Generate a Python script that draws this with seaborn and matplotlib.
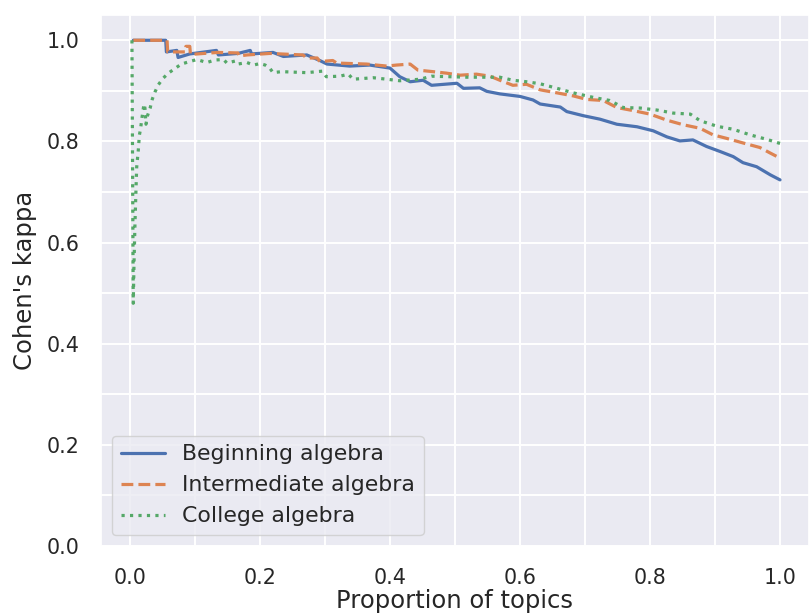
import matplotlib
matplotlib.use("Agg")
import matplotlib.pyplot as plt
from matplotlib.ticker import MultipleLocator
import seaborn as sns
import pandas as pd

series_names = ["Beginning algebra", "Intermediate algebra", "College algebra"]

begin_x = [0.005, 0.055, 0.056, 0.072, 0.074, 0.092, 0.133, 0.136, 0.166, 0.185,
           0.187, 0.22, 0.236, 0.272, 0.292, 0.303, 0.338, 0.369, 0.379, 0.40,
           0.415, 0.431, 0.451, 0.464, 0.503, 0.513, 0.538, 0.549, 0.569, 0.60,
           0.62, 0.631, 0.662, 0.672, 0.697, 0.723, 0.749, 0.78, 0.805, 0.826,
           0.846, 0.866, 0.887, 0.908, 0.928, 0.943, 0.964, 0.985, 1.0]
begin_y = [1.0, 1.0, 0.977, 0.980, 0.966, 0.973, 0.980, 0.971, 0.974, 0.980,
           0.973, 0.976, 0.968, 0.971, 0.960, 0.953, 0.949, 0.951, 0.949, 0.945,
           0.928, 0.918, 0.921, 0.911, 0.915, 0.905, 0.906, 0.899, 0.894, 0.889,
           0.882, 0.874, 0.868, 0.859, 0.851, 0.844, 0.834, 0.829, 0.821, 0.809,
           0.801, 0.803, 0.790, 0.780, 0.770, 0.758, 0.750, 0.734, 0.724]

inter_x = [0.005, 0.057, 0.058, 0.085, 0.086, 0.092, 0.093, 0.135, 0.166, 0.168,
           0.18, 0.215, 0.266, 0.272, 0.288, 0.292, 0.312, 0.318, 0.364, 0.395,
           0.41, 0.431, 0.436, 0.443, 0.466, 0.487, 0.508, 0.533, 0.554, 0.569,
           0.589, 0.61, 0.631, 0.657, 0.682, 0.703, 0.728, 0.749, 0.774, 0.80,
           0.826, 0.851, 0.877, 0.897, 0.918, 0.943, 0.969, 0.985, 1.0]
inter_y = [1.0, 1.0, 0.977, 0.977, 0.988, 0.988, 0.972, 0.976, 0.975, 0.969,
           0.971, 0.974, 0.971, 0.965, 0.965, 0.958, 0.960, 0.955, 0.953, 0.949,
           0.951, 0.953, 0.948, 0.941, 0.938, 0.935, 0.931, 0.933, 0.929, 0.921,
           0.911, 0.913, 0.902, 0.896, 0.890, 0.883, 0.881, 0.867, 0.861, 0.854,
           0.842, 0.833, 0.826, 0.813, 0.806, 0.797, 0.788, 0.777, 0.767]

college_x = [0.003, 0.005, 0.0062, 0.0077, 0.0092, 0.0103, 0.0128, 0.0144, 0.0164, 0.018,
             0.0215, 0.023, 0.0246, 0.0267, 0.031, 0.0344, 0.0385, 0.0436, 0.051, 0.059,
             0.079, 0.092, 0.103, 0.118, 0.131, 0.144, 0.149, 0.162, 0.166, 0.18,
             0.19, 0.20, 0.208, 0.215, 0.22, 0.233, 0.272, 0.296, 0.302, 0.323,
             0.336, 0.343, 0.364, 0.374, 0.395, 0.415, 0.446, 0.464, 0.518, 0.569,
             0.589, 0.61, 0.631, 0.657, 0.682, 0.713, 0.738, 0.759, 0.785, 0.811,
             0.836, 0.862, 0.877, 0.903, 0.928, 0.954, 0.98, 1.0]
college_y = [1.0, 0.48, 0.56, 0.639, 0.704, 0.749, 0.783, 0.812, 0.826, 0.843,
             0.874, 0.866, 0.834, 0.850, 0.866, 0.884, 0.898, 0.912, 0.925, 0.935,
             0.953, 0.958, 0.962, 0.956, 0.961, 0.962, 0.955, 0.959, 0.953, 0.956,
             0.951, 0.954, 0.951, 0.945, 0.936, 0.938, 0.936, 0.939, 0.928, 0.929,
             0.933, 0.923, 0.925, 0.926, 0.923, 0.920, 0.923, 0.929, 0.927, 0.927,
             0.921, 0.918, 0.914, 0.905, 0.896, 0.887, 0.881, 0.867, 0.866, 0.862,
             0.856, 0.854, 0.841, 0.830, 0.824, 0.813, 0.804, 0.796]

frames = []
for name, xs, ys in zip(series_names, [begin_x, inter_x, college_x],
                        [begin_y, inter_y, college_y]):
    frames.append(pd.DataFrame({"x": xs, "y": ys, "Course": name}))
df = pd.concat(frames, ignore_index=True)

sns.set_theme(style="darkgrid", font_scale=1.35)

fig = plt.figure(figsize=(8.09, 6.16), dpi=100)
ax = fig.add_axes([101 / 809, (616 - 546) / 616, (809 - 101) / 809, (546 - 15) / 616])

sns.lineplot(data=df, x="x", y="y", hue="Course", style="Course",
             hue_order=series_names, style_order=series_names,
             dashes=["", (3.7, 1.6), (1, 1.65)], estimator=None, sort=False,
             linewidth=2.3, ax=ax)

ax.set_xlim(-0.0446, 1.0446)
ax.set_ylim(0, 1.05)
ax.xaxis.set_major_locator(MultipleLocator(0.2))
ax.yaxis.set_major_locator(MultipleLocator(0.2))
ax.xaxis.set_minor_locator(MultipleLocator(0.1))
ax.yaxis.set_minor_locator(MultipleLocator(0.1))
ax.grid(True, which="both", color="white", linewidth=1.4)
ax.tick_params(which="both", length=0, pad=15.5, labelsize=14.85)
ax.set_xlabel("Proportion of topics", fontsize=17.5, labelpad=1)
ax.set_ylabel("Cohen's kappa", fontsize=17.5, labelpad=7)

handles, labels = ax.get_legend_handles_labels()
ax.legend(handles, labels, loc="lower left", fontsize=15.8)

fig.savefig("out.png", dpi=100)
